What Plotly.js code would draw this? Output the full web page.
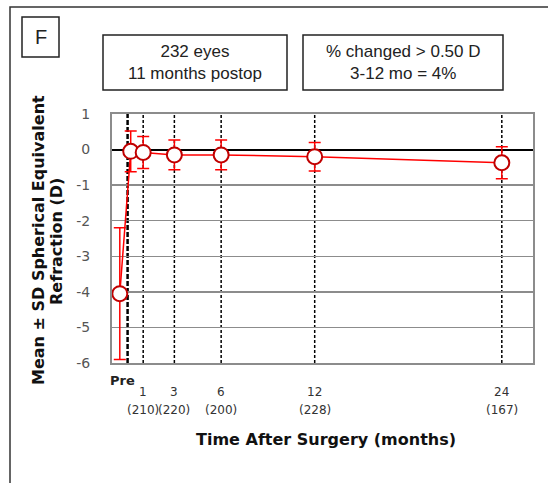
<!DOCTYPE html>
<html>
<head>
<meta charset="utf-8">
<script src="https://cdn.plot.ly/plotly-3.0.1.min.js"></script>
<style>
html,body{margin:0;padding:0;background:#fff;}
#chart{width:548px;height:483px;}
</style>
</head>
<body>
<div id="chart"></div>
<script>
// Data
const months = [-0.5, 0.2, 1, 3, 6, 12, 24];
const meanSE = [-4.05, -0.05, -0.08, -0.15, -0.15, -0.2, -0.37];
const sdSE = [1.85, 0.57, 0.45, 0.42, 0.42, 0.40, 0.45];
const yTickVals = [1, 0, -1, -2, -3, -4, -5, -6];
const yTickText = ['1', '0', '-1', '-2', '-3', '-4', '-5', '-6'];
const tickMonths = [1, 3, 6, 12, 24];
const tickEyes = ['(210)', '(220)', '(200)', '(228)', '(167)'];
const dashedMonths = [0, 1, 3, 6, 12, 24];
const box1Text = '232 eyes<br>11 months postop';
const box2Text = '% changed > 0.50 D<br>3-12 mo = 4%';
const panelLetter = 'F';
const yTitle1 = 'Mean ± SD Spherical Equivalent';
const yTitle2 = 'Refraction (D)';
const xTitle = 'Time After Surgery (months)';

// pixel helpers for paper coords (plot area 112..533 x, 114..363 y)
const L = 112, R = 533, T = 114, B = 363;
const px = v => (v - L) / (R - L);
const py = v => (B - v) / (B - T);

const trace = {
  type: 'scatter', mode: 'lines+markers',
  x: months, y: meanSE,
  line: {color: '#FF0000', width: 1.5},
  marker: {symbol: 'circle', size: 15, color: '#FFFFFF', line: {color: '#C00000', width: 2}},
  error_y: {type: 'data', array: sdSE, visible: true, color: '#FF0000', thickness: 1.5, width: 6},
  hoverinfo: 'x+y'
};

const shapes = [];
dashedMonths.forEach(m => {
  shapes.push({type: 'line', xref: 'x', yref: 'paper', x0: m, x1: m, y0: 0, y1: 1,
    line: {color: '#000', width: m === 0 ? 2.5 : 1.5, dash: m === 0 ? '5px,2px' : '3px,2px'}, layer: 'below'});
});
// outer frame
shapes.push({type: 'rect', xref: 'paper', yref: 'paper', x0: px(10), x1: px(570), y0: py(7), y1: py(520),
  line: {color: '#333', width: 1.5}});
// panel letter box
shapes.push({type: 'rect', xref: 'paper', yref: 'paper', x0: px(22), x1: px(59), y0: py(57), y1: py(17),
  line: {color: '#222', width: 1.5}});
// info boxes
shapes.push({type: 'rect', xref: 'paper', yref: 'paper', x0: px(103), x1: px(287), y0: py(90), y1: py(35),
  line: {color: '#222', width: 1.5}});
shapes.push({type: 'rect', xref: 'paper', yref: 'paper', x0: px(303), x1: px(503), y0: py(90), y1: py(35),
  line: {color: '#222', width: 1.5}});

const annotations = [];
function ann(o) { annotations.push(Object.assign({showarrow: false, xanchor: 'center', yanchor: 'middle'}, o)); }
const sans = 'Liberation Sans, Arial, sans-serif';
const verd = 'DejaVu Sans, Verdana, sans-serif';
ann({xref: 'paper', yref: 'paper', x: px(40.5), y: py(37), text: panelLetter,
  font: {family: sans, size: 20, color: '#222'}});
ann({xref: 'paper', yref: 'paper', x: px(195), y: py(63), text: box1Text,
  font: {family: sans, size: 17, color: '#222'}});
ann({xref: 'paper', yref: 'paper', x: px(403), y: py(63), text: box2Text,
  font: {family: sans, size: 17, color: '#222'}});
ann({xref: 'x', yref: 'paper', x: -0.3, y: py(380), text: '<b>Pre</b>',
  font: {family: verd, size: 13, color: '#222'}});
tickMonths.forEach((m, i) => {
  ann({xref: 'x', yref: 'paper', x: m, y: py(392), text: String(m),
    font: {family: verd, size: 12, color: '#333'}});
  ann({xref: 'x', yref: 'paper', x: m, y: py(410), text: tickEyes[i],
    font: {family: verd, size: 12, color: '#333'}});
});
ann({xref: 'paper', yref: 'paper', x: px(326), y: py(439), text: '<b>' + xTitle + '</b>',
  font: {family: verd, size: 16, color: '#111'}});
ann({xref: 'paper', yref: 'paper', x: px(38), y: py(240), textangle: -90,
  text: '<b>' + yTitle1 + '</b>', font: {family: verd, size: 16, color: '#111'}});
ann({xref: 'paper', yref: 'paper', x: px(56), y: py(242), textangle: -90,
  text: '<b>' + yTitle2 + '</b>', font: {family: verd, size: 16, color: '#111'}});

const layout = {
  width: 548, height: 483,
  margin: {l: L, r: 548 - R, t: T, b: 483 - B, pad: 0},
  paper_bgcolor: '#fff', plot_bgcolor: '#fff',
  showlegend: false,
  xaxis: {range: [-1, 26], showticklabels: false, showgrid: false, zeroline: false,
    showline: true, mirror: true, linecolor: '#8c8c8c', linewidth: 2, ticks: ''},
  yaxis: {range: [-6, 1], tickmode: 'array', tickvals: yTickVals, ticktext: yTickText,
    showgrid: true, gridcolor: '#8c8c8c', gridwidth: 1.5,
    zeroline: true, zerolinecolor: '#000', zerolinewidth: 2,
    showline: true, mirror: true, linecolor: '#8c8c8c', linewidth: 2,
    ticks: 'outside', ticklen: 0, ticklabelstandoff: 17,
    tickfont: {family: verd, size: 14, color: '#555'}},
  shapes: shapes,
  annotations: annotations
};

Plotly.newPlot('chart', [trace], layout, {displayModeBar: false, staticPlot: true});
</script>
</body>
</html>
